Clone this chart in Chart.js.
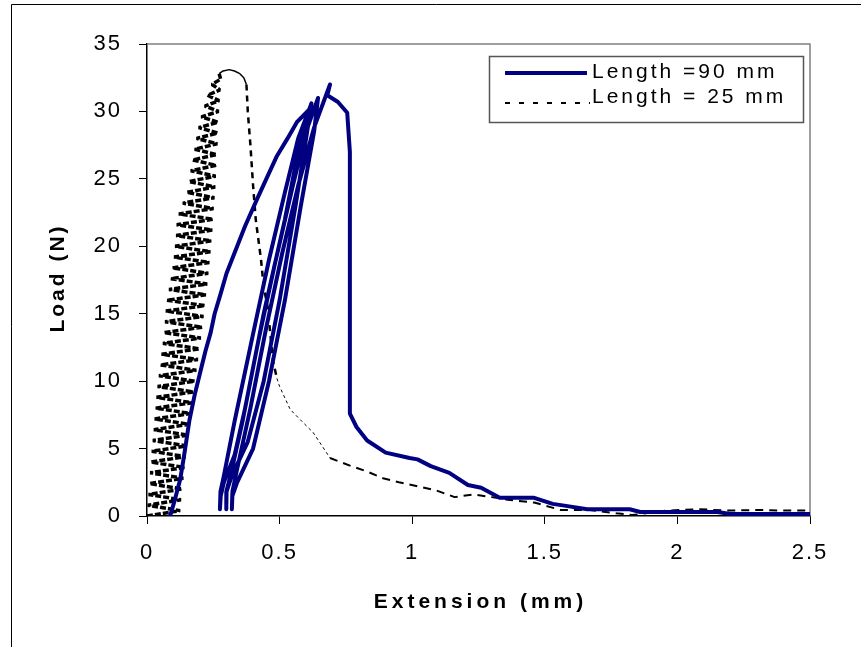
<!DOCTYPE html>
<html>
<head>
<meta charset="utf-8">
<script src="https://cdn.jsdelivr.net/npm/chart.js@4/dist/chart.umd.min.js"></script>
<style>
  html, body { margin: 0; padding: 0; background: #fff; }
  #wrap { width: 861px; height: 647px; }
</style>
</head>
<body>
<div id="wrap"><canvas id="chartLoad"></canvas></div>
<script>
// Length = 90 mm (loading, unload/reload cycles, failure)
const len90X = [0.087, 0.105, 0.125, 0.14, 0.16, 0.18, 0.20, 0.22, 0.24, 0.255, 0.275, 0.30, 0.34, 0.37, 0.415, 0.45, 0.49, 0.53, 0.565, 0.615,
  0.60, 0.58, 0.52, 0.44, 0.37, 0.33, 0.29, 0.278, 0.275,
  0.277, 0.29, 0.33, 0.40, 0.46, 0.52, 0.57, 0.62,
  0.60, 0.56, 0.50, 0.44, 0.38, 0.32, 0.30, 0.298,
  0.30, 0.315, 0.36, 0.42, 0.48, 0.55, 0.60, 0.645,
  0.63, 0.58, 0.52, 0.46, 0.40, 0.34, 0.322, 0.32,
  0.322, 0.34, 0.39, 0.45, 0.51, 0.57, 0.63, 0.69,
  0.68, 0.72, 0.755, 0.765, 0.765, 0.79, 0.83, 0.90, 0.99, 1.02, 1.07, 1.14, 1.21, 1.26, 1.33, 1.46, 1.53, 1.58, 1.66, 1.82, 1.86, 2.15, 2.2, 2.5];
const len90Y = [0, 1.2, 2.7, 4.5, 7.1, 9, 10.6, 12.2, 13.6, 15, 16.3, 18, 20, 21.5, 23.5, 25, 26.7, 28, 29.2, 30.2,
  29.5, 28, 22, 15, 8, 4.5, 2.5, 1.5, 0.5,
  1.8, 3, 7, 13.5, 19, 24, 28, 30.6,
  28, 23, 16, 10, 5.5, 3, 1.8, 0.5,
  1.8, 3, 7, 13, 18.5, 24.5, 28.5, 31,
  28.5, 23, 16, 10, 5, 2.5, 1.5, 0.5,
  1.8, 3.5, 8, 14, 19.5, 24.5, 28.8, 32,
  31.2, 30.7, 29.9, 27, 7.6, 6.6, 5.6, 4.7, 4.3, 4.2, 3.7, 3.2, 2.3, 2.1, 1.35, 1.35, 0.9, 0.75, 0.5, 0.5, 0.3, 0.3, 0.15, 0.15];

// Length = 25 mm (dense cycling, peak, drop, tail)
const len25X = [0.000, 0.125, 0.003, 0.128, 0.006, 0.132, 0.010, 0.137, 0.012, 0.141, 0.015, 0.146, 0.018, 0.150, 0.022, 0.155, 0.026, 0.160, 0.029, 0.165,
  0.033, 0.170, 0.036, 0.175, 0.040, 0.180, 0.045, 0.186, 0.051, 0.192, 0.055, 0.198, 0.060, 0.203, 0.064, 0.208, 0.068, 0.213, 0.071, 0.218,
  0.075, 0.222, 0.083, 0.227, 0.090, 0.231, 0.096, 0.235, 0.102, 0.239, 0.106, 0.242, 0.110, 0.246, 0.112, 0.249, 0.120, 0.251, 0.135, 0.254,
  0.150, 0.257, 0.158, 0.259, 0.165, 0.261, 0.172, 0.263, 0.180, 0.265, 0.187, 0.266, 0.195, 0.268, 0.205, 0.270, 0.218, 0.272, 0.228, 0.275,
  0.245, 0.278, 0.272,
  0.287, 0.31, 0.33, 0.35, 0.365, 0.375,
  0.38, 0.39, 0.40, 0.41, 0.42, 0.43, 0.44, 0.455, 0.465, 0.475, 0.49,
  0.50, 0.54, 0.585, 0.626, 0.66, 0.69,
  0.73, 0.77, 0.83, 0.89, 0.95, 1.02, 1.09, 1.16, 1.23, 1.30, 1.36, 1.46, 1.56, 1.67, 1.77, 1.83, 1.96, 2.08, 2.2, 2.3, 2.4, 2.5];
const len25Y = [0.0, 0.4, 0.8, 1.2, 1.6, 2.0, 2.4, 2.8, 3.2, 3.6, 4.0, 4.4, 4.8, 5.2, 5.6, 6.0, 6.4, 6.8, 7.2, 7.6,
  8.0, 8.4, 8.8, 9.2, 9.6, 10.0, 10.4, 10.8, 11.2, 11.6, 12.0, 12.4, 12.8, 13.2, 13.6, 14.0, 14.4, 14.8, 15.2, 15.6,
  16.0, 16.4, 16.8, 17.2, 17.6, 18.0, 18.4, 18.8, 19.2, 19.6, 20.0, 20.4, 20.8, 21.2, 21.6, 22.0, 22.4, 22.8, 23.2, 23.6,
  24.0, 24.4, 24.8, 25.2, 25.6, 26.0, 26.4, 26.8, 27.2, 27.6, 28.0, 28.4, 28.8, 29.2, 29.6, 30.0, 30.4, 30.8, 31.2, 31.6,
  32.0, 32.4, 32.8,
  33.0, 33.1, 33.0, 32.8, 32.5, 32.0,
  30, 27.5, 24.5, 22, 20.5, 19, 17, 15.5, 13.5, 11.5, 10.2,
  9.6, 7.9, 7.0, 6.2, 5.2, 4.3,
  4.0, 3.7, 3.3, 2.8, 2.5, 2.2, 1.9, 1.4, 1.6, 1.4, 1.2, 1.0, 0.45, 0.45, 0.2, 0.07, 0.4, 0.5, 0.4, 0.45, 0.4, 0.4];

const seriesNames = ['Length =90 mm', 'Length = 25 mm'];
const xTicks = [0, 0.5, 1, 1.5, 2, 2.5];
const yTicks = [0, 5, 10, 15, 20, 25, 30, 35];
const xTitle = 'Extension (mm)';
const yTitle = 'Load (N)';

const RISE_COUNT = 83;   // points in the dense cycling part of the 25 mm curve
const BLUE = '#000080';
const FONT = '"Liberation Sans", Arial, sans-serif';

function toPoints(xs, ys) {
  return xs.map((x, i) => ({ x: x, y: ys[i] }));
}

// frame, plot border, axis titles and legend
const decorPlugin = {
  id: 'decor',
  beforeDraw(chart) {
    const ctx = chart.ctx;
    ctx.letterSpacing = '2px';
    ctx.save();
    ctx.strokeStyle = '#000';
    ctx.lineWidth = 1;
    ctx.beginPath();
    ctx.moveTo(11.5, 700);
    ctx.lineTo(11.5, 4.5);
    ctx.lineTo(900, 4.5);
    ctx.stroke();
    ctx.restore();
  },
  beforeDatasetsDraw(chart) {
    const ctx = chart.ctx;
    const a = chart.chartArea;
    ctx.save();
    ctx.strokeStyle = '#808080';
    ctx.lineWidth = 1.5;
    ctx.beginPath();
    ctx.moveTo(a.left, a.top);
    ctx.lineTo(a.right, a.top);
    ctx.lineTo(a.right, a.bottom);
    ctx.stroke();
    ctx.restore();
  },
  afterDraw(chart) {
    const ctx = chart.ctx;
    const a = chart.chartArea;
    ctx.save();
    ctx.fillStyle = '#000';
    ctx.font = 'bold 21px ' + FONT;
    ctx.letterSpacing = '4px';
    ctx.textAlign = 'center';
    ctx.textBaseline = 'middle';
    ctx.fillText(xTitle, (a.left + a.right) / 2 + 2, 602);
    ctx.translate(58, (a.top + a.bottom) / 2);
    ctx.rotate(-Math.PI / 2);
    ctx.letterSpacing = '3px';
    ctx.fillText(yTitle, 2, 0);
    ctx.restore();

    // legend
    ctx.save();
    ctx.fillStyle = '#fff';
    ctx.fillRect(489.5, 56.5, 314, 66);
    ctx.strokeStyle = '#555';
    ctx.lineWidth = 1.5;
    ctx.strokeRect(489.5, 56.5, 314, 66);
    ctx.strokeStyle = BLUE;
    ctx.lineWidth = 4;
    ctx.beginPath();
    ctx.moveTo(505, 73);
    ctx.lineTo(587, 73);
    ctx.stroke();
    ctx.strokeStyle = '#000';
    ctx.lineWidth = 2;
    ctx.setLineDash([5, 9]);
    ctx.beginPath();
    ctx.moveTo(505, 103);
    ctx.lineTo(590, 103);
    ctx.stroke();
    ctx.setLineDash([]);
    ctx.fillStyle = '#000';
    ctx.font = '21px ' + FONT;
    ctx.letterSpacing = '3px';
    ctx.textAlign = 'left';
    ctx.textBaseline = 'alphabetic';
    ctx.fillText(seriesNames[0], 592, 78);
    ctx.fillText(seriesNames[1], 592, 103);
    ctx.restore();
  }
};

function seg25Width(c) {
  if (c.p0DataIndex < RISE_COUNT - 1) return 3.5;
  if (c.p0.parsed.y > 32) return 1.5;
  if (c.p0.parsed.y > 10.3) return 2.5;
  if (c.p0.parsed.x < 0.69) return 1;
  return 2;
}
function seg25Dash(c) {
  if (c.p0DataIndex < RISE_COUNT - 1) return [6, 2];
  if (c.p0.parsed.y > 32) return [];
  if (c.p0.parsed.y > 10.3) return [6, 5];
  if (c.p0.parsed.x < 0.69) return [3, 3];
  return [8, 6];
}

new Chart(document.getElementById('chartLoad'), {
  type: 'scatter',
  data: {
    datasets: [{
      label: seriesNames[0],
      data: toPoints(len90X, len90Y),
      showLine: true,
      borderColor: BLUE,
      borderWidth: 4,
      borderJoinStyle: 'round',
      borderCapStyle: 'round',
      pointRadius: 0,
      tension: 0
    }, {
      label: seriesNames[1],
      data: toPoints(len25X, len25Y),
      showLine: true,
      borderColor: '#000',
      borderWidth: 2,
      borderJoinStyle: 'bevel',
      pointRadius: 0,
      tension: 0,
      segment: {
        borderWidth: seg25Width,
        borderDash: seg25Dash
      }
    }]
  },
  options: {
    responsive: true,
    maintainAspectRatio: false,
    animation: false,
    layout: { padding: { top: 44, right: 51, left: 0, bottom: 0 } },
    plugins: {
      legend: { display: false },
      tooltip: { enabled: false }
    },
    scales: {
      x: {
        type: 'linear',
        min: 0,
        max: 2.5,
        afterFit(scale) { scale.height = 131; },
        afterBuildTicks(scale) { scale.ticks = xTicks.map(v => ({ value: v })); },
        grid: { drawOnChartArea: false, tickLength: 8, color: '#000', tickWidth: 1 },
        border: { color: '#000', width: 1.5 },
        ticks: { color: '#000', padding: 16, maxRotation: 0, font: { family: FONT, size: 22 }, callback: v => String(v) },
        title: { display: false }
      },
      y: {
        type: 'linear',
        min: 0,
        max: 35,
        afterFit(scale) { scale.width = 147; },
        afterBuildTicks(scale) { scale.ticks = yTicks.map(v => ({ value: v })); },
        grid: { drawOnChartArea: false, tickLength: 8, color: '#000', tickWidth: 1 },
        border: { color: '#000', width: 1.5 },
        ticks: { color: '#000', padding: 17, font: { family: FONT, size: 22 }, callback: v => String(v) },
        title: { display: false }
      }
    }
  },
  plugins: [decorPlugin]
});
</script>
</body>
</html>
